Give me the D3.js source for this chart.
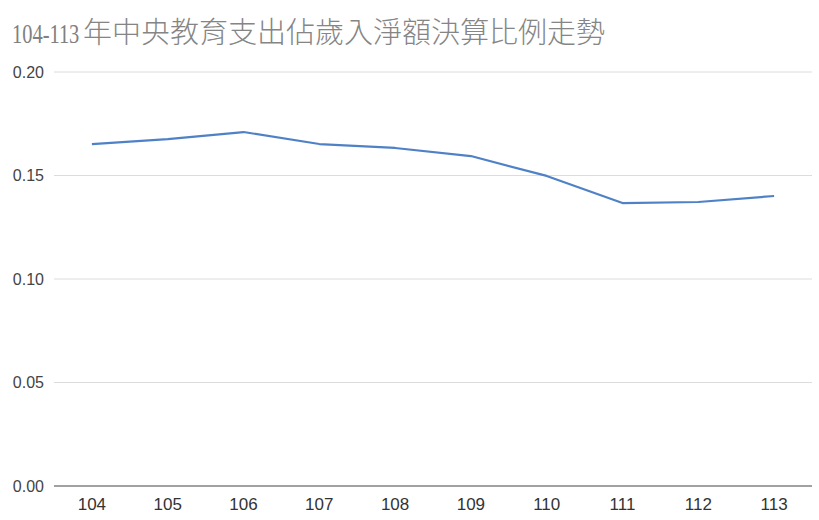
<!DOCTYPE html>
<html>
<head>
<meta charset="utf-8">
<script src="https://cdn.jsdelivr.net/npm/d3@7"></script>
<style>
  body { margin: 0; background: #fff; }
  svg { display: block; }
</style>
</head>
<body>
<div id="chart"></div>
<script>
// Data
const years = ["104", "105", "106", "107", "108", "109", "110", "111", "112", "113"];
const ratios = [0.1652, 0.1676, 0.1710, 0.1652, 0.1633, 0.1594, 0.1498, 0.1367, 0.1372, 0.1401];
const yTicks = [0, 0.05, 0.10, 0.15, 0.20];

const width = 819, height = 520;
const margin = { top: 72, right: 7, bottom: 34, left: 54 };

const svg = d3.select("#chart")
  .append("svg")
  .attr("width", width)
  .attr("height", height);

// Title: condensed digits (squeezed horizontally), then CJK
svg.append("text")
  .attr("transform", "translate(12,43) scale(0.73,1)")
  .attr("fill", "#808080")
  .style("font-family", "'Liberation Serif', serif")
  .style("font-size", "28px")
  .text("104-113");

svg.append("text")
  .attr("x", 83)
  .attr("y", 43)
  .attr("fill", "#858585")
  .style("font-family", "'Noto Sans CJK TC', sans-serif")
  .style("font-weight", 300)
  .style("font-size", "29px")
  .text("年中央教育支出佔歲入淨額決算比例走勢");

const x = d3.scaleBand()
  .domain(years)
  .range([margin.left, width - margin.right]);

const y = d3.scaleLinear()
  .domain([0, 0.20])
  .range([height - margin.bottom, margin.top]);

// Gridlines
svg.append("g")
  .selectAll("line")
  .data(yTicks.filter(d => d > 0))
  .join("line")
  .attr("x1", margin.left)
  .attr("x2", width - margin.right)
  .attr("y1", d => y(d))
  .attr("y2", d => y(d))
  .attr("stroke", "#dcdcdc")
  .attr("stroke-width", 1);

// Baseline
svg.append("line")
  .attr("x1", margin.left)
  .attr("x2", width - margin.right)
  .attr("y1", y(0))
  .attr("y2", y(0))
  .attr("stroke", "#444")
  .attr("stroke-width", 1.2);

// Y labels
svg.append("g")
  .selectAll("text")
  .data(yTicks)
  .join("text")
  .attr("x", 44)
  .attr("y", d => y(d))
  .attr("dy", "0.36em")
  .attr("text-anchor", "end")
  .attr("fill", "#444")
  .style("font-family", "'Liberation Sans', Arial, sans-serif")
  .style("font-size", "16px")
  .text(d => d3.format(".2f")(d));

// X labels
svg.append("g")
  .selectAll("text")
  .data(years)
  .join("text")
  .attr("x", d => x(d) + x.bandwidth() / 2)
  .attr("y", 510)
  .attr("text-anchor", "middle")
  .attr("fill", "#333")
  .style("font-family", "'Liberation Sans', Arial, sans-serif")
  .style("font-size", "17px")
  .text(d => d);

// Line
const line = d3.line()
  .x((d, i) => x(years[i]) + x.bandwidth() / 2)
  .y(d => y(d));

svg.append("path")
  .datum(ratios)
  .attr("d", line)
  .attr("fill", "none")
  .attr("stroke", "#4f81c7")
  .attr("stroke-width", 2.2)
  .attr("stroke-linejoin", "round");
</script>
</body>
</html>
